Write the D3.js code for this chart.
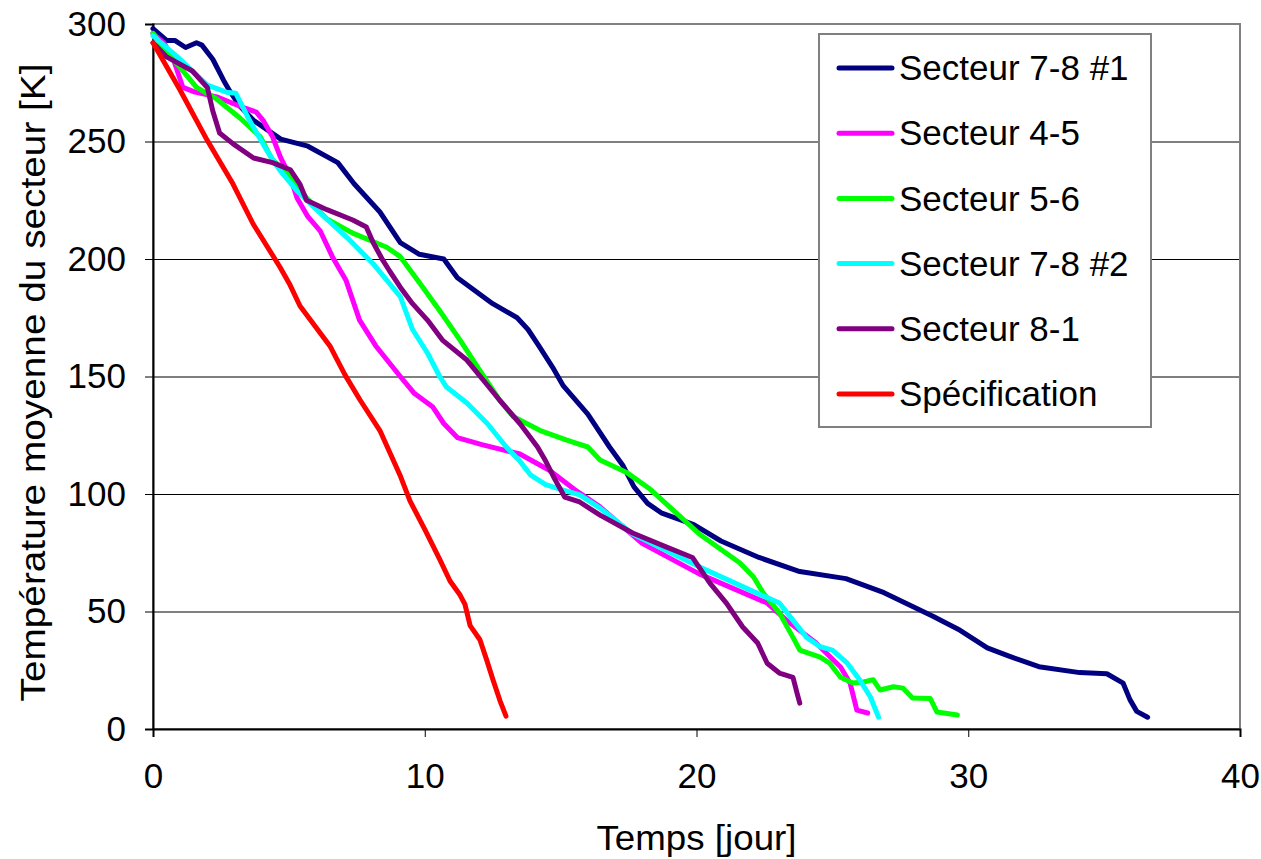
<!DOCTYPE html>
<html>
<head>
<meta charset="utf-8">
<script src="https://cdn.jsdelivr.net/npm/d3@7"></script>
<style>
  body { margin: 0; background: #fff; }
  text { font-family: "Liberation Sans", Arial, sans-serif; fill: #000; }
</style>
</head>
<body>
<svg></svg>
<script>
// [jour, K]
const secteur78a = [[0,298],[0.5,293],[0.8,293],[1.2,290],[1.6,292],[1.8,291],[2.2,285],[2.6,276],[2.85,271],[3.2,265],[3.7,259],[4.7,251],[5.7,248],[6.8,241],[7.4,232],[8.35,220],[9.1,207],[9.8,202],[10.7,200],[11.2,192],[12.5,181],[13.4,175],[13.8,170],[14.2,163],[14.7,154],[15.1,146],[16.0,134],[16.8,120],[17.3,112],[17.7,103],[18.2,96],[18.7,92],[19.9,87],[20.9,80],[22.3,73],[23.8,67],[25.5,64],[26.9,58],[28.7,48],[29.7,42],[30.7,34.5],[31.5,31],[32.6,26.5],[34.1,24],[35.1,23.5],[35.7,19.5],[35.95,12.5],[36.2,7.5],[36.6,5]];
const secteur45 = [[0,296],[0.4,292],[0.75,285],[1.1,273],[1.55,271],[2.35,269],[3.2,265],[3.8,262.5],[4.05,259],[4.4,252],[4.7,243],[5.05,235],[5.3,226],[5.7,218],[6.15,212],[6.6,201],[7.1,191],[7.6,174],[8.2,163],[9.1,150],[9.6,143],[10.3,137],[10.7,130],[11.2,124],[12.1,121],[13.5,117],[14.6,110],[15.5,102],[16.45,94.5],[18.0,79],[20.1,66],[22.6,53.6],[23.3,46.4],[24.4,36.6],[25.3,26.4],[25.65,19.6],[25.9,8],[26.3,6.8]];
const secteur56 = [[0,296],[0.25,292],[1.6,273],[2.35,268],[3.2,260],[3.95,252],[4.4,242],[4.95,237],[5.65,226],[6.4,217],[7.35,211],[8.6,205],[9.1,201],[9.8,190],[10.55,178],[11.3,165.5],[12.0,153],[12.75,140],[13.25,133],[14.25,127],[15.2,123],[16.0,120],[16.45,114.5],[17.45,109],[18.3,102],[19.15,93],[20.1,83],[21.6,70.6],[22.1,64.7],[22.45,58],[23.05,49.4],[23.55,39],[23.8,33.6],[24.55,30.6],[24.9,28],[25.3,22],[25.75,19.6],[26.15,20],[26.5,21],[26.75,16.6],[27.25,18],[27.6,17.4],[27.95,13.2],[28.6,13],[28.85,7.2],[29.6,6]];
const secteur78b = [[0,295],[0.4,291],[0.9,286],[1.35,281],[2.0,274],[2.7,271],[3.05,270.5],[3.55,259],[4.2,246],[4.65,238],[5.3,229],[6.15,219.6],[7.15,209],[8.1,198],[9.1,184],[9.55,170],[10.1,160],[10.55,150],[10.8,145.5],[11.55,138.7],[12.3,130],[13.0,120],[13.5,114],[13.9,108],[14.45,104],[15.0,102],[15.7,99.6],[16.45,94],[17.65,83],[20.1,69],[22.0,59],[23.05,53.6],[23.45,47.7],[24.05,39],[24.55,35],[25.0,33.6],[25.55,28],[26.0,21],[26.4,13.6],[26.7,5]];
const secteur81 = [[0,292],[0.5,286],[1.45,280],[2.0,273],[2.2,263],[2.45,253.6],[2.95,249],[3.7,243],[4.4,241],[5.05,238],[5.4,232],[5.65,225],[6.4,221],[7.35,216.6],[7.85,213.6],[8.1,207],[8.45,199.6],[8.7,195],[9.1,188],[9.55,181],[10.1,174],[10.65,165.5],[11.55,157],[12.15,148.5],[12.75,140],[13.5,130],[14.15,120],[14.45,114],[14.8,106],[15.15,98.7],[15.7,96.6],[16.45,91],[17.65,83.4],[18.9,77.4],[19.85,73],[20.5,62],[21.1,53.6],[21.7,43.4],[22.25,36.6],[22.6,28],[23.05,23.8],[23.55,22],[23.7,15.3],[23.8,11]];
const specification = [[0,292],[0.99,272],[1.99,250.6],[2.94,232],[3.68,215],[4.67,196.6],[5.04,189],[5.41,180],[6.51,163],[7.07,150.6],[7.62,140],[8.35,127],[9.09,108],[9.46,97],[10.01,84.7],[10.56,72],[10.93,63],[11.3,57],[11.48,53],[11.67,44],[12.03,38],[12.29,29],[12.51,21],[12.77,12],[12.99,5.5]];

const seriesNames = ['Secteur 7-8 #1', 'Secteur 4-5', 'Secteur 5-6', 'Secteur 7-8 #2', 'Secteur 8-1', 'Spécification'];
const seriesColors = ['#000080', '#ff00ff', '#00ff00', '#00ffff', '#800080', '#ff0000'];
const seriesData = [secteur78a, secteur45, secteur56, secteur78b, secteur81, specification];
const drawOrder = [0, 1, 2, 3, 4, 5];

const xTicks = [0, 10, 20, 30, 40];
const yTicks = [0, 50, 100, 150, 200, 250, 300];

const xAxisLabelText = 'Temps [jour]';
const yAxisLabelText = 'Température moyenne du secteur [K]';

const width = 1261;
const height = 859;
const margin = { top: 24, right: 21, bottom: 130, left: 153 };
const plotW = width - margin.left - margin.right;
const plotH = height - margin.top - margin.bottom;

const svg = d3.select('svg')
  .attr('width', width)
  .attr('height', height);

const chart = svg.append('g')
  .attr('transform', `translate(${margin.left}, ${margin.top})`);

const xScale = d3.scaleLinear().domain([0, 40]).range([0, plotW]);
const yScale = d3.scaleLinear().domain([0, 300]).range([plotH, 0]);

// horizontal grid lines
chart.append('g')
  .call(d3.axisLeft(yScale).tickValues(yTicks.slice(1, -1)).tickSize(-plotW).tickFormat(''))
  .call(g => g.select('.domain').remove())
  .call(g => g.selectAll('line').attr('stroke', '#000').attr('stroke-width', 1));

// plot border (top / right in grey)
chart.append('rect')
  .attr('x', 0).attr('y', 0)
  .attr('width', plotW).attr('height', plotH)
  .attr('fill', 'none')
  .attr('stroke', '#808080')
  .attr('stroke-width', 2);

// x axis
const xAxis = chart.append('g')
  .attr('transform', `translate(0, ${plotH})`)
  .call(d3.axisBottom(xScale).tickValues(xTicks).tickSize(8).tickPadding(26).tickFormat(d3.format('d')));
xAxis.select('.domain').attr('stroke', '#000').attr('stroke-width', 2);
xAxis.selectAll('line').attr('stroke', '#000');
xAxis.selectAll('text').style('font-size', '35px').attr('fill', '#000');

// y axis
const yAxis = chart.append('g')
  .call(d3.axisLeft(yScale).tickValues(yTicks).tickSize(8).tickPadding(19));
yAxis.select('.domain').attr('stroke', '#000').attr('stroke-width', 2);
yAxis.selectAll('line').attr('stroke', '#000');
yAxis.selectAll('text').style('font-size', '35px').attr('fill', '#000');

// lines
const line = d3.line()
  .x(d => xScale(d[0]))
  .y(d => yScale(d[1]));

chart.append('g')
  .selectAll('path')
  .data(drawOrder)
  .enter()
  .append('path')
  .attr('d', i => line(seriesData[i]))
  .attr('fill', 'none')
  .attr('stroke', i => seriesColors[i])
  .attr('stroke-width', 5)
  .attr('stroke-linejoin', 'round')
  .attr('stroke-linecap', 'round');

// axis titles
svg.append('text')
  .attr('x', margin.left + plotW / 2)
  .attr('y', 850)
  .attr('text-anchor', 'middle')
  .attr('textLength', 200)
  .attr('lengthAdjust', 'spacingAndGlyphs')
  .style('font-size', '35px')
  .text(xAxisLabelText);

svg.append('text')
  .attr('transform', `translate(45, ${margin.top + plotH / 2 + 6}) rotate(-90)`)
  .attr('text-anchor', 'middle')
  .attr('textLength', 638)
  .attr('lengthAdjust', 'spacingAndGlyphs')
  .style('font-size', '35px')
  .text(yAxisLabelText);

// legend
const legend = svg.append('g')
  .attr('transform', 'translate(819, 34)');

legend.append('rect')
  .attr('width', 332)
  .attr('height', 393)
  .attr('fill', '#fff')
  .attr('stroke', '#808080')
  .attr('stroke-width', 2);

const rowY = d3.scalePoint().domain(seriesNames).range([34, 360]);

const rows = legend.selectAll('.row')
  .data(seriesNames)
  .enter()
  .append('g')
  .attr('transform', d => `translate(0, ${rowY(d)})`);

rows.append('line')
  .attr('x1', 20).attr('x2', 73)
  .attr('stroke', (d, i) => seriesColors[i])
  .attr('stroke-width', 5)
  .attr('stroke-linecap', 'round');

rows.append('text')
  .attr('x', 80)
  .attr('dy', '0.35em')
  .style('font-size', '35px')
  .text(d => d);
</script>
</body>
</html>
